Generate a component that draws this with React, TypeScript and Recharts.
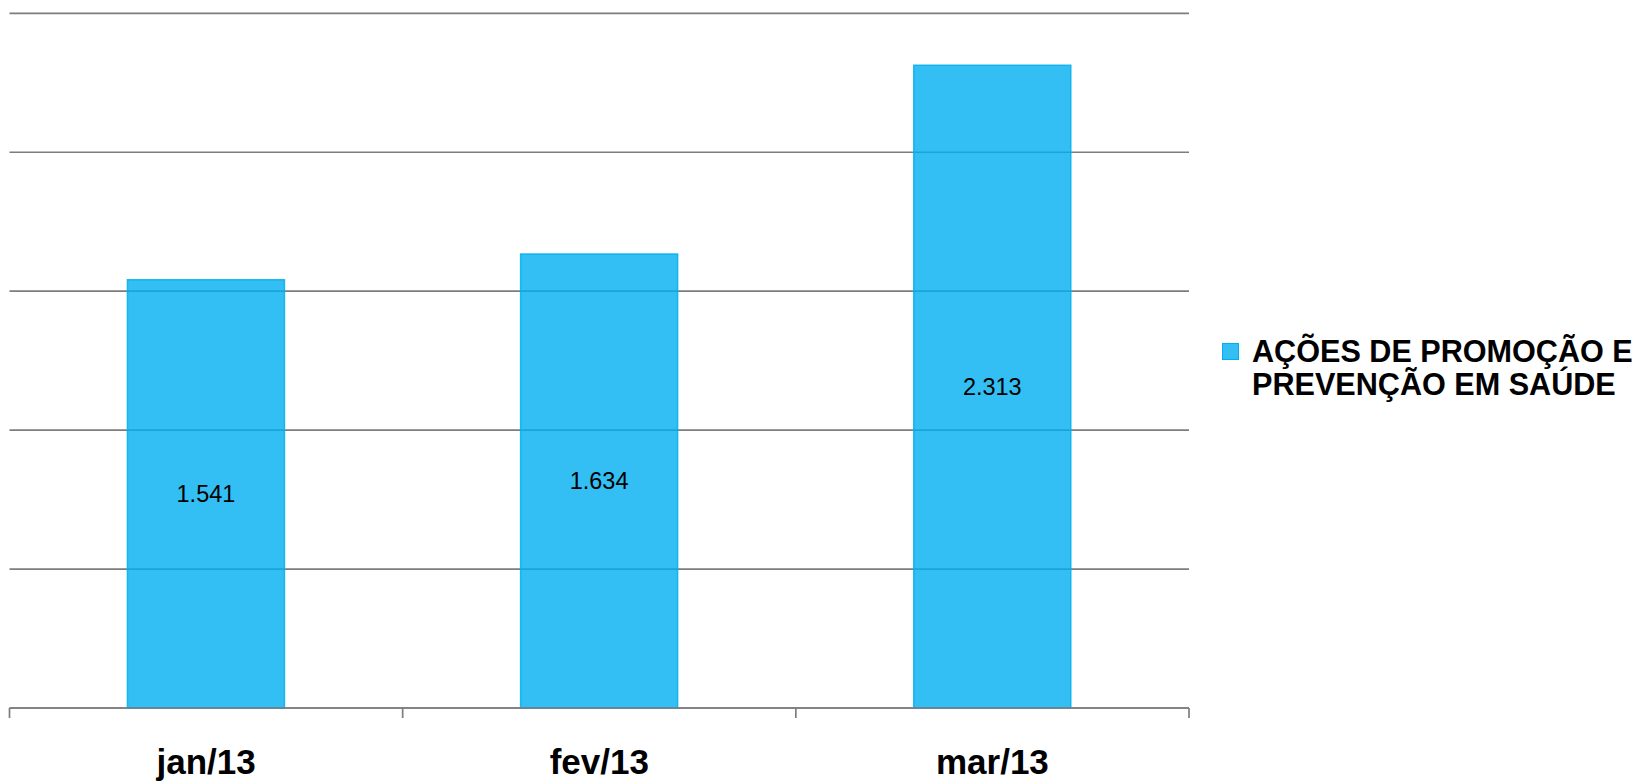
import React from "react";
import { BarChart, Bar, XAxis, YAxis, CartesianGrid, Legend, LabelList } from "recharts";

const months = ["jan/13", "fev/13", "mar/13"];
const acoes = [1541, 1634, 2313];
const yTicks = [0, 500, 1000, 1500, 2000, 2500];
const seriesName = "AÇÕES DE PROMOÇÃO E PREVENÇÃO EM SAÚDE";

const data = months.map((m, i) => ({ month: m, acoes: acoes[i] }));

const W = 1649;
const H = 781;
const LEFT = 9.5;
const RIGHT = 460;
const LEGEND_W = 420;
const BAND = (W - LEFT - RIGHT) / months.length;
const FONT = '"Liberation Sans", Arial, sans-serif';
const GRID = "#7d7d7d";

const fmt = (v: number) => String(v).replace(/\B(?=(\d{3})+(?!\d))/g, ".");

const MonthTick = (props: any) => {
  const { x, y, payload, index } = props;
  const last = index === months.length - 1;
  return (
    <g>
      <line x1={x - BAND / 2} x2={x - BAND / 2} y1={y} y2={y + 10} stroke={GRID} strokeWidth={1.7} />
      {last && <line x1={x + BAND / 2} x2={x + BAND / 2} y1={y} y2={y + 10} stroke={GRID} strokeWidth={1.7} />}
      <text x={x} y={y + 66} textAnchor="middle" fontFamily={FONT} fontWeight="bold" fontSize={35} fill="#000">
        {payload.value}
      </text>
    </g>
  );
};

const LegendBox = () => (
  <div style={{ position: "relative", fontFamily: FONT, fontWeight: "bold", fontSize: 30.6, lineHeight: "33.5px", color: "#000" }}>
    <div
      style={{
        position: "absolute",
        left: 0,
        top: 8.5,
        width: 15,
        height: 15,
        background: "#33BFF3",
        border: "1px solid #00AFF0",
      }}
    />
    <div style={{ marginLeft: 30, width: 390 }}>
      AÇÕES DE PROMOÇÃO E
      <br />
      PREVENÇÃO EM SAÚDE
    </div>
  </div>
);

export default function App() {
  return (
    <div style={{ position: "absolute", left: 0, top: 0, width: W, height: H, background: "#fff" }}>
      <BarChart
        width={W}
        height={H}
        data={data}
        margin={{ top: 13.3, left: LEFT, right: RIGHT - LEGEND_W, bottom: 0 }}
        barCategoryGap="30%"
      >
        <CartesianGrid vertical={false} stroke={GRID} strokeWidth={1.7} />
        <YAxis hide domain={[0, 2500]} ticks={yTicks} />
        <XAxis
          dataKey="month"
          height={73}
          axisLine={{ stroke: GRID, strokeWidth: 1.7 }}
          tickLine={false}
          tickSize={0}
          tickMargin={0}
          interval={0}
          tick={<MonthTick />}
        />
        <Legend
          layout="vertical"
          align="right"
          verticalAlign="middle"
          content={<LegendBox />}
          wrapperStyle={{ position: "absolute", left: 1222, top: 334.5, width: LEGEND_W }}
        />
        <Bar
          dataKey="acoes"
          name={seriesName}
          fill="#00AFF0"
          fillOpacity={0.8}
          stroke="#00AFF0"
          strokeOpacity={0.85}
          strokeWidth={1.5}
          isAnimationActive={false}
        >
          <LabelList dataKey="acoes" position="center" formatter={(v: any) => fmt(Number(v))} fill="#000" fontSize={23.5} fontFamily={FONT} />
        </Bar>
      </BarChart>
    </div>
  );
}
